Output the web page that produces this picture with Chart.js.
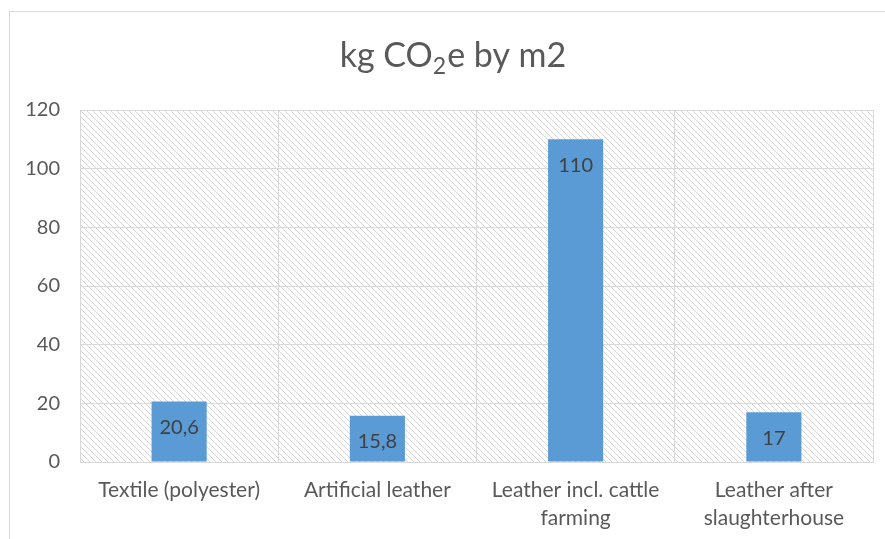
<!DOCTYPE html>
<html>
<head>
<meta charset="utf-8">
<script src="https://cdn.jsdelivr.net/npm/chart.js@4"></script>
<style>
html,body{margin:0;padding:0;background:#fff;}
#wrap{width:885px;height:539px;position:relative;}
</style>
</head>
<body>
<div id="wrap"><canvas id="c" width="885" height="539"></canvas></div>
<script>
// ---- data ----
const categories = [
  "Textile (polyester)",
  "Artificial leather",
  ["Leather incl. cattle", "farming"],
  ["Leather after", "slaughterhouse"]
];
const values = [20.6, 15.8, 110, 17];
const yTicks = [0, 20, 40, 60, 80, 100, 120];
const titleParts = ["kg CO", "2", "e by m2"]; // kg CO₂e by m2

const FONT = "Lato, 'Open Sans', sans-serif";

// hatch pattern
function makePattern(ctx) {
  const t = document.createElement('canvas');
  t.width = 6; t.height = 6;
  const g = t.getContext('2d');
  g.fillStyle = '#ffffff';
  g.fillRect(0, 0, 6, 6);
  g.fillStyle = '#d6d6d6';
  for (let i = 0; i < 6; i++) g.fillRect(i, i, 1, 1);
  return ctx.createPattern(t, 'repeat');
}

const bgPlugin = {
  id: 'bg',
  beforeDraw(chart) {
    const ctx = chart.ctx, a = chart.chartArea;
    ctx.save();
    ctx.fillStyle = '#fff';
    ctx.fillRect(0, 0, chart.width, chart.height);
    // outer frame
    ctx.strokeStyle = '#d9d9d9';
    ctx.lineWidth = 1;
    ctx.strokeRect(9.5, 11.5, chart.width + 20, chart.height + 20);
    // hatched plot area
    ctx.fillStyle = makePattern(ctx);
    ctx.fillRect(a.left, a.top, a.right - a.left, a.bottom - a.top);
    // title
    ctx.fillStyle = '#595959';
    ctx.textBaseline = 'alphabetic';
    const big = '34px ' + FONT, small = '23px ' + FONT;
    ctx.font = big; const w0 = ctx.measureText(titleParts[0]).width;
    const w2 = ctx.measureText(titleParts[2]).width;
    ctx.font = small; const w1 = ctx.measureText(titleParts[1]).width;
    const total = w0 + w1 + w2 + 1;
    let x = 453 - total / 2;
    const base = 67;
    ctx.textAlign = 'left';
    ctx.font = big; ctx.fillText(titleParts[0], x, base); x += w0;
    ctx.font = small; ctx.fillText(titleParts[1], x, base + 7); x += w1 + 1;
    ctx.font = big; ctx.fillText(titleParts[2], x, base);
    ctx.restore();
  }
};

const labelPlugin = {
  id: 'vals',
  afterDatasetsDraw(chart) {
    const ctx = chart.ctx;
    const meta = chart.getDatasetMeta(0);
    ctx.save();
    ctx.fillStyle = '#404040';
    ctx.font = '20px ' + FONT;
    ctx.textAlign = 'center';
    ctx.textBaseline = 'middle';
    meta.data.forEach((bar, i) => {
      const txt = String(values[i]).replace('.', ',');
      ctx.fillText(txt, bar.x, bar.y + 26);
    });
    ctx.restore();
  }
};

new Chart(document.getElementById('c'), {
  type: 'bar',
  data: {
    labels: categories,
    datasets: [{
      data: values,
      backgroundColor: '#5b9bd5',
      borderWidth: 0,
      categoryPercentage: 1,
      barPercentage: 0.278
    }]
  },
  options: {
    responsive: false,
    animation: false,
    devicePixelRatio: 1,
    layout: { padding: { top: 110, right: 12, bottom: 0, left: 0 } },
    plugins: { legend: { display: false }, title: { display: false }, tooltip: { enabled: false } },
    scales: {
      x: {
        grid: { color: '#d9d9d9', lineWidth: 1, drawTicks: false, offset: true },
        border: { color: '#d9d9d9' },
        ticks: { color: '#595959', font: { family: FONT, size: 21, lineHeight: 1.3 }, padding: 15, maxRotation: 0, autoSkip: false },
        afterFit(s) { s.height = 77; }
      },
      y: {
        min: 0, max: 120,
        afterBuildTicks(s) { s.ticks = yTicks.map(v => ({ value: v })); },
        grid: { color: '#d9d9d9', lineWidth: 1, drawTicks: false },
        border: { color: '#d9d9d9' },
        ticks: { color: '#595959', font: { family: FONT, size: 20 }, padding: 20 },
        afterFit(s) { s.width = 80; }
      }
    }
  },
  plugins: [bgPlugin, labelPlugin]
});
</script>
</body>
</html>
